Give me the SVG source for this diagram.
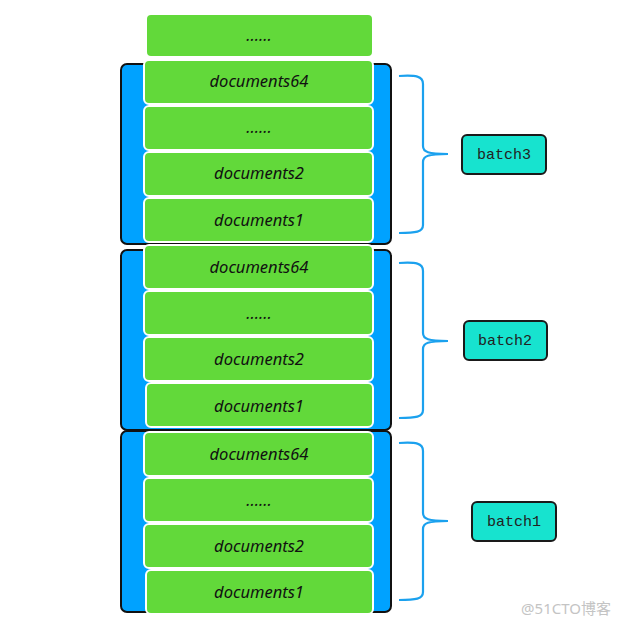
<svg xmlns="http://www.w3.org/2000/svg" width="622" height="626" viewBox="0 0 622 626">
<style>
.cont{fill:#00A2FF;stroke:#111;stroke-width:2}
.doc{fill:#62D93A;stroke:#fff;stroke-width:2}
.dt{font-family:"Noto Sans","DejaVu Sans",sans-serif;font-style:italic;font-size:16.5px;fill:#111;text-anchor:middle;dominant-baseline:central}
.brace{fill:none;stroke:#1BA1EE;stroke-width:2.2}
.bb{fill:#17E3CF;stroke:#1a1a1a;stroke-width:2}
.bt{font-family:"Liberation Mono","Courier New",monospace;font-size:15px;fill:#222;text-anchor:middle;dominant-baseline:central}
</style>
<rect width="622" height="626" fill="#fff"/>
<g id="top">
<rect class="doc" x="146" y="14" width="227" height="43" rx="5"/>
<text class="dt" x="259" y="34">......</text>
</g>
<g id="batch3-stack">
<rect class="cont" x="121" y="64" width="270" height="180" rx="6"/>
<g id="b3-d64"><rect class="doc" x="144" y="60" width="229" height="44" rx="5"/><text class="dt" x="259" y="80">documents64</text></g>
<g id="b3-dots"><rect class="doc" x="144" y="106" width="229" height="44" rx="5"/><text class="dt" x="259" y="126">......</text></g>
<g id="b3-d2"><rect class="doc" x="144" y="152" width="229" height="44" rx="5"/><text class="dt" x="259" y="172">documents2</text></g>
<g id="b3-d1"><rect class="doc" x="144" y="198" width="229" height="44" rx="5"/><text class="dt" x="259" y="219">documents1</text></g>
</g>
<g id="batch2-stack">
<rect class="cont" x="121" y="250" width="270" height="180" rx="6"/>
<g id="b2-d64"><rect class="doc" x="144" y="245" width="229" height="44" rx="5"/><text class="dt" x="259" y="266">documents64</text></g>
<g id="b2-dots"><rect class="doc" x="144" y="291" width="229" height="44" rx="5"/><text class="dt" x="259" y="312">......</text></g>
<g id="b2-d2"><rect class="doc" x="144" y="337" width="229" height="44" rx="5"/><text class="dt" x="259" y="358">documents2</text></g>
<g id="b2-d1"><rect class="doc" x="146" y="383" width="227" height="44" rx="5"/><text class="dt" x="259" y="405">documents1</text></g>
</g>
<g id="batch1-stack">
<rect class="cont" x="121" y="431" width="270" height="181" rx="6"/>
<g id="b1-d64"><rect class="doc" x="144" y="432" width="229" height="44" rx="5"/><text class="dt" x="259" y="453">documents64</text></g>
<g id="b1-dots"><rect class="doc" x="144" y="478" width="229" height="44" rx="5"/><text class="dt" x="259" y="499">......</text></g>
<g id="b1-d2"><rect class="doc" x="144" y="524" width="229" height="44" rx="5"/><text class="dt" x="259" y="545">documents2</text></g>
<g id="b1-d1"><rect class="doc" x="146" y="570" width="227" height="44" rx="5"/><text class="dt" x="259" y="591">documents1</text></g>
</g>
<g id="connectors">
<path class="brace" d="M399,76 C416,75 423,76 423,84 L423,146 C423,152 428,154 448,154 C428,154 423,156 423,162 L423,225 C423,232 416,233 399,233"/>
<path class="brace" d="M399,263 C416,262 423,263 423,271 L423,333 C423,339 428,341 448,341 C428,341 423,343 423,349 L423,410 C423,417 416,418 399,418"/>
<path class="brace" d="M399,443 C416,442 423,443 423,451 L423,513 C423,519 428,521 448,521 C428,521 423,523 423,529 L423,592 C423,599 416,600 399,600"/>
</g>
<g id="batch3"><rect class="bb" x="462" y="135" width="84" height="39" rx="5"/><text class="bt" x="504" y="155">batch3</text></g>
<g id="batch2"><rect class="bb" x="464" y="321" width="83" height="39" rx="5"/><text class="bt" x="505" y="341">batch2</text></g>
<g id="batch1"><rect class="bb" x="472" y="502" width="84" height="39" rx="5"/><text class="bt" x="514" y="522">batch1</text></g>
<text x="611" y="614" font-family="'Noto Sans','Noto Sans CJK SC',sans-serif" font-size="15" fill="#c4c4c4" text-anchor="end">@51CTO博客</text>
</svg>
